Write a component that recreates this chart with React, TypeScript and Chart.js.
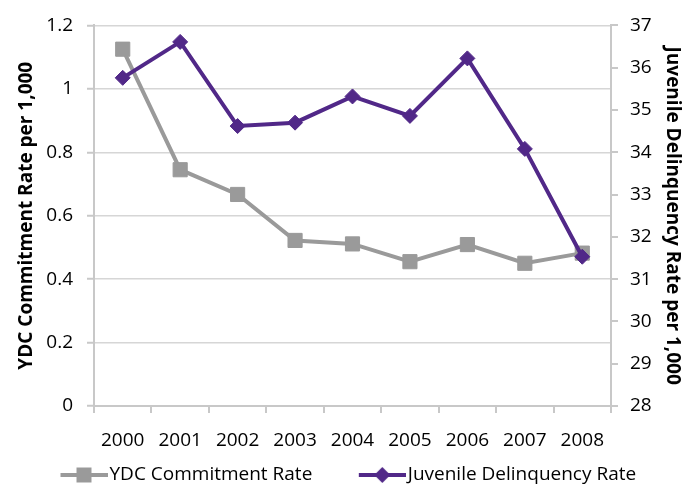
import React, { useEffect, useRef } from "react";
import { Chart, registerables } from "chart.js";

Chart.register(...registerables);

const years = ["2000", "2001", "2002", "2003", "2004", "2005", "2006", "2007", "2008"];
const ydcRate = [1.125, 0.745, 0.667, 0.522, 0.511, 0.455, 0.509, 0.45, 0.482];
const juvenileRate = [35.76, 36.61, 34.62, 34.7, 35.32, 34.86, 36.22, 34.08, 31.53];
const ydcLabel = "YDC Commitment Rate";
const juvenileLabel = "Juvenile Delinquency Rate";
const leftTitle = "YDC Commitment Rate per 1,000";
const rightTitle = "Juvenile Delinquency Rate per 1,000";

const GREY = "#9a9a9a";
const PURPLE = "#512888";
const AXIS = "#c8c8c8";
const GRID = "#d6d6d6";
const FONT = "'Open Sans', 'Noto Sans', sans-serif";
const FS = 19;
const BOX_W = 76;

function legendImage(color: string, shape: "square" | "diamond") {
  const c = document.createElement("canvas");
  const w = BOX_W + 15;
  c.width = w;
  c.height = 18;
  const ctx = c.getContext("2d")!;
  const x0 = w - 47;
  const mx = x0 + 23.5;
  ctx.strokeStyle = color;
  ctx.lineWidth = 4;
  ctx.beginPath();
  ctx.moveTo(x0, 9);
  ctx.lineTo(w, 9);
  ctx.stroke();
  ctx.fillStyle = color;
  ctx.beginPath();
  if (shape === "square") {
    ctx.rect(mx - 7.5, 9 - 7.5, 15, 15);
  } else {
    ctx.moveTo(mx - 8, 9);
    ctx.lineTo(mx, 1);
    ctx.lineTo(mx + 8, 9);
    ctx.lineTo(mx, 17);
    ctx.closePath();
  }
  ctx.fill();
  return c;
}

export default function App() {
  const ref = useRef<HTMLCanvasElement>(null);
  useEffect(() => {
    const ydcImg = legendImage(GREY, "square");
    const juvImg = legendImage(PURPLE, "diamond");
    const chart = new Chart(ref.current!, {
      type: "line",
      data: {
        labels: years,
        datasets: [
          {
            label: juvenileLabel,
            data: juvenileRate,
            yAxisID: "y1",
            borderColor: PURPLE,
            backgroundColor: PURPLE,
            borderWidth: 4,
            pointStyle: "rectRot",
            pointRadius: 7.5,
            pointBorderWidth: 1,
            pointBackgroundColor: PURPLE,
            pointBorderColor: PURPLE,
            tension: 0,
          },
          {
            label: ydcLabel,
            data: ydcRate,
            yAxisID: "y",
            borderColor: GREY,
            backgroundColor: GREY,
            borderWidth: 4,
            pointStyle: "rect",
            pointRadius: 10,
            pointBorderWidth: 1,
            pointBackgroundColor: GREY,
            pointBorderColor: GREY,
            tension: 0,
          },
        ],
      },
      options: {
        responsive: false,
        animation: false,
        layout: { padding: { top: 21, bottom: -8.5, left: 14, right: 0 } },
        plugins: {
          tooltip: { enabled: false },
          legend: {
            position: "bottom",
            align: "start",
            labels: {
              usePointStyle: true,
              pointStyleWidth: BOX_W,
              padding: 10,
              color: "#000",
              font: { family: FONT, size: FS },
              sort: (a: any, b: any) => b.datasetIndex - a.datasetIndex,
              generateLabels: (chart: any) =>
                chart.data.datasets.map((ds: any, i: number) => ({
                  text: ds.label,
                  datasetIndex: i,
                  pointStyle: i === 0 ? juvImg : ydcImg,
                  fillStyle: ds.borderColor,
                  strokeStyle: ds.borderColor,
                  lineWidth: 0,
                  fontColor: "#000",
                  hidden: false,
                })),
            },
          },
        },
        scales: {
          x: {
            type: "category",
            offset: true,
            afterFit: (s: any) => {
              s.height = 49.5;
            },
            grid: {
              offset: true,
              drawOnChartArea: false,
              drawTicks: true,
              tickLength: 7,
              color: AXIS,
              lineWidth: 2,
            },
            border: { color: AXIS, width: 2 },
            ticks: {
              color: "#000",
              padding: 16,
              maxRotation: 0,
              font: { family: FONT, size: FS },
            },
          },
          y: {
            position: "left",
            min: 0,
            max: 1.2,
            afterFit: (s: any) => {
              s.width = 80;
            },
            ticks: {
              stepSize: 0.2,
              color: "#000",
              padding: 14,
              font: { family: FONT, size: FS },
              callback: (v: any) => String(Math.round(Number(v) * 10) / 10),
            },
            grid: {
              color: GRID,
              lineWidth: 1.5,
              tickLength: 7,
              tickColor: AXIS,
              tickWidth: 2,
            },
            border: { color: AXIS, width: 2 },
            title: {
              display: true,
              text: leftTitle,
              color: "#000",
              padding: { top: 1, bottom: 0 },
              font: { family: FONT, size: FS, weight: "bold" },
            },
          },
          y1: {
            position: "right",
            min: 28,
            max: 37,
            afterFit: (s: any) => {
              s.width = 84;
            },
            ticks: {
              stepSize: 1,
              color: "#000",
              padding: 12,
              font: { family: FONT, size: FS },
            },
            grid: {
              drawOnChartArea: false,
              tickLength: 7,
              color: AXIS,
              lineWidth: 2,
            },
            border: { color: AXIS, width: 2 },
            title: {
              display: true,
              text: rightTitle,
              color: "#000",
              padding: { top: 11, bottom: 0 },
              font: { family: FONT, size: FS, weight: "bold" },
            },
          },
        },
      },
    });
    return () => chart.destroy();
  }, []);
  return (
    <div style={{ position: "fixed", left: 0, top: 0, width: 695, height: 486, background: "#fff" }}>
      <canvas ref={ref} width={695} height={486} />
    </div>
  );
}
